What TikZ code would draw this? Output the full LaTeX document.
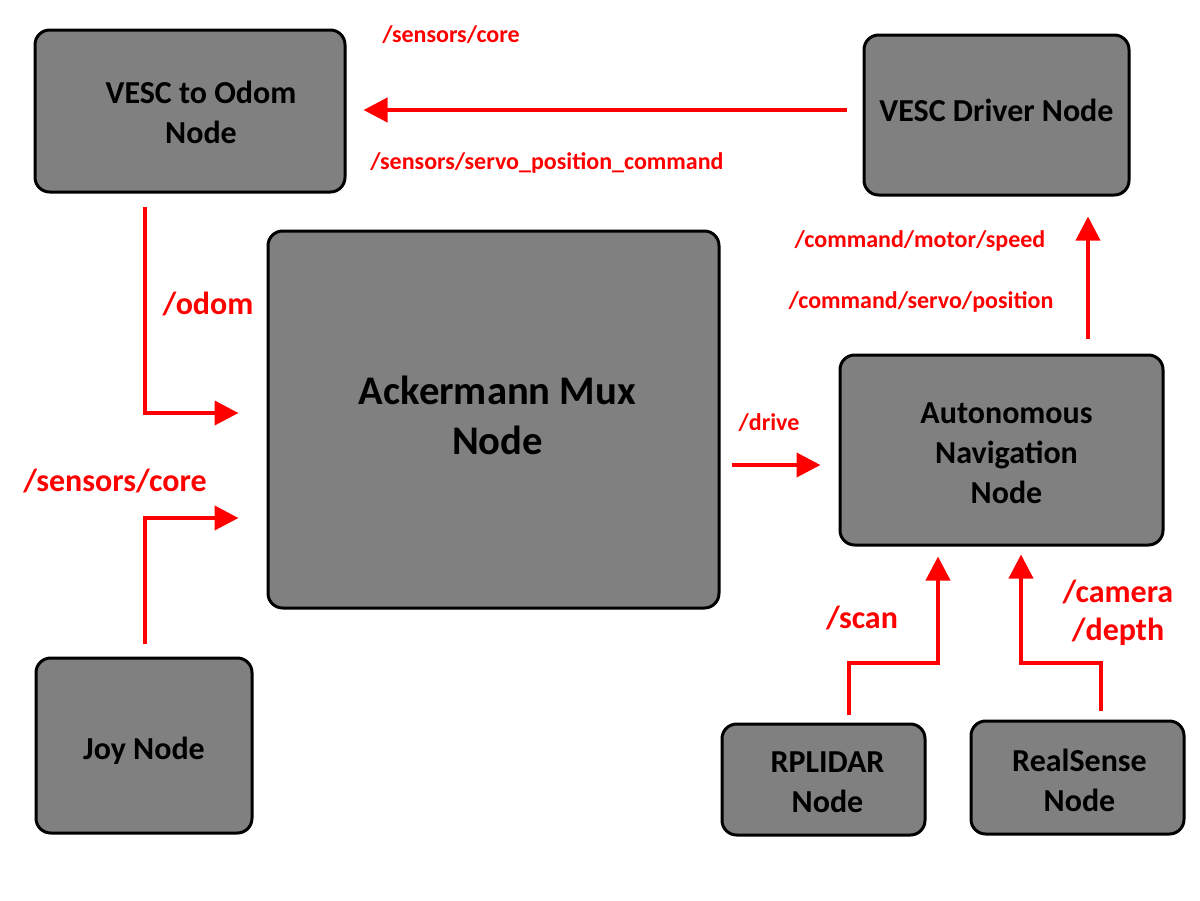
\documentclass[tikz,border=0pt]{standalone}
\usepackage{fontspec}
\setmainfont{Carlito}
\usetikzlibrary{arrows.meta,calc}
\definecolor{boxgray}{HTML}{808080}
\definecolor{linkred}{HTML}{FF0000}
\begin{document}
\begin{tikzpicture}[x=0.75pt,y=-0.75pt,
  box/.style={draw=black,line width=2.25pt,fill=boxgray,rounded corners=11pt,inner sep=0pt},
  boxtext/.style={align=center,font=\fontsize{24}{30}\selectfont\bfseries,text=black,inner sep=0pt},
  arr/.style={draw=linkred,line width=3pt,-{Triangle[length=18pt,width=18pt]}},
  lblsmall/.style={text=linkred,font=\fontsize{18}{22}\selectfont\bfseries,inner sep=0pt},
  lblbig/.style={text=linkred,font=\fontsize{24}{28.5}\selectfont\bfseries,inner sep=0pt,align=center}]
\useasboundingbox (0,0) rectangle (1200,900);
\fill[white] (0,0) rectangle (1200,900);

\node[box,minimum width=232.5pt,minimum height=121.5pt] (odom) at (190,111) {};
\node[box,minimum width=198.75pt,minimum height=120pt] (driver) at (996.5,115) {};
\node[box,minimum width=338.25pt,minimum height=282.75pt] (mux) at (493.5,419.5) {};
\node[box,minimum width=242.25pt,minimum height=142.5pt] (auton) at (1001.5,450) {};
\node[box,minimum width=162pt,minimum height=131.25pt] (joy) at (144,745.5) {};
\node[box,minimum width=152.25pt,minimum height=83.25pt] (rplidar) at (823.5,779.5) {};
\node[box,minimum width=159.75pt,minimum height=84.75pt] (realsense) at (1077.5,777.5) {};

\node[boxtext] (todom) at ($(odom)+(11,1)$) {VESC to Odom\\Node};
\node[boxtext] (tdriver) at ($(driver)+(0,-5)$) {VESC Driver Node};
\node[boxtext,font=\fontsize{30.5}{38}\selectfont\bfseries] (tmux) at ($(mux)+(4,-4)$) {Ackermann Mux\\Node};
\node[boxtext] (tauton) at ($(auton)+(5,3)$) {Autonomous\\Navigation\\Node};
\node[boxtext] (tjoy) at ($(joy)+(0,5)$) {Joy Node};
\node[boxtext] (trplidar) at ($(rplidar)+(4,3)$) {RPLIDAR\\Node};
\node[boxtext] (trealsense) at ($(realsense)+(2,3)$) {RealSense\\Node};

% connectors
\draw[arr] ($(driver.west)+(-16,-5)$) -- ($(odom.east)+(17,-1)$);
\draw[arr] ($(odom.south)+(-45,13)$) |- ($(mux.west)+(-28,-6.5)$);
\draw[arr] ($(joy.north)+(1,-13)$) |- ($(mux.west)+(-28,98.5)$);
\draw[arr] ($(mux.east)+(11,45.5)$) -- ($(auton.west)+(-18,15)$);
\draw[arr] ($(auton.north)+(86.5,-15)$) -- ($(driver.south)+(91.5,20)$);
\draw[arr] ($(rplidar.north)+(25.5,-8)$) -- ++(0,-52) -| ($(auton.south)+(-63.5,10)$);
\draw[arr] ($(realsense.north)+(23.5,-9)$) -- ++(0,-48) -| ($(auton.south)+(19.5,8)$);

% labels
\node[lblsmall] (l1) at (451,35) {/sensors/core};
\node[lblsmall] (l2) at (547,163) {/sensors/servo\_position\_command};
\node[lblsmall] (l3) at (920,241) {/command/motor/speed};
\node[lblsmall] (l4) at (921,302) {/command/servo/position};
\node[lblsmall] (l5) at (769,423) {/drive};
\node[lblbig] (l6) at (208,304) {/odom};
\node[lblbig] (l7) at (115,481) {/sensors/core};
\node[lblbig] (l8) at (862,618) {/scan};
\node[lblbig] (l9) at (1118,613) {/camera\\/depth};
\end{tikzpicture}
\end{document}
